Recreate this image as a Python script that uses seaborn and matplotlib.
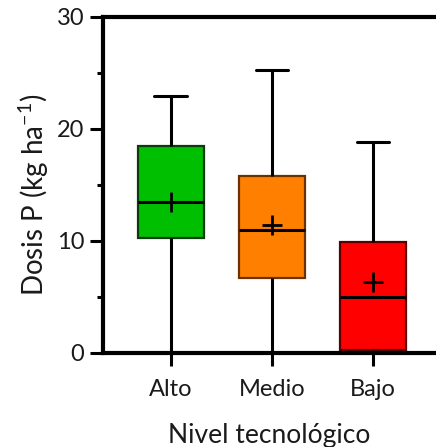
import matplotlib
matplotlib.use("Agg")
import matplotlib.pyplot as plt
import seaborn as sns
import pandas as pd
from matplotlib.ticker import MultipleLocator

# box stats: min, Q1, median, Q3, max
categories = ["Alto", "Medio", "Bajo"]
mins = [0.0, 0.0, 0.0]
q1s = [10.3, 6.7, 0.3]
medians = [13.5, 11.0, 5.0]
q3s = [18.5, 15.8, 9.9]
maxs = [22.9, 25.3, 18.8]
means = [13.5, 11.4, 6.3]

fill_colors = ["#00BF00", "#FF8000", "#FF0000"]
edge_colors = ["#0B3A0B", "#6B3200", "#5A0000"]

sns.set_theme(style="ticks")
plt.rcParams["font.family"] = ["Lato", "DejaVu Sans"]
plt.rcParams["mathtext.fontset"] = "custom"
plt.rcParams["mathtext.rm"] = "Lato"
plt.rcParams["mathtext.it"] = "Lato:italic"

# five points per group -> quartiles are exactly the listed values
rows = []
for cat, a, b, c, d, e in zip(categories, mins, q1s, medians, q3s, maxs):
    for v in (a, b, c, d, e):
        rows.append({"nivel": cat, "dosis": v})
df = pd.DataFrame(rows)

fig = plt.figure(figsize=(4.36, 4.47), dpi=100)
ax = fig.add_axes([0.236, 0.2103, 0.764, 0.752])

sns.boxplot(data=df, x="nivel", y="dosis", order=categories, hue="nivel",
            palette=fill_colors, saturation=1, whis=(0, 100), width=0.65,
            linecolor="black", linewidth=2.2, legend=False, ax=ax)
for patch, ec in zip(ax.patches, edge_colors):
    patch.set_edgecolor(ec)
    patch.set_linewidth(1.6)

sns.pointplot(x=categories, y=means, order=categories, linestyle="none",
              marker="+", markersize=14, markeredgewidth=2.0, color="black",
              errorbar=None, ax=ax)

ax.set_ylim(0, 30)
ax.set_xlim(-0.673, 2.624)
ax.yaxis.set_major_locator(MultipleLocator(10))
ax.yaxis.set_minor_locator(MultipleLocator(5))

for side in ["left", "bottom", "top"]:
    ax.spines[side].set_linewidth(3)
    ax.spines[side].set_color("black")
ax.spines["right"].set_visible(False)

ax.tick_params(axis="both", which="major", length=9.5, width=2.2, color="black",
               labelsize=17, labelcolor="#1a1a1a", pad=4)
ax.tick_params(axis="x", which="major", pad=9)
ax.tick_params(axis="y", which="minor", length=4.5, width=2.2, color="black")

ax.set_xlabel("Nivel tecnológico", fontsize=19, color="#1a1a1a", labelpad=17)
ax.set_ylabel("Dosis P (kg ha$^{\\mathrm{-1}}$)", fontsize=20, color="#1a1a1a")
ax.yaxis.set_label_coords(-0.155, 0.47)

fig.savefig("out.png", dpi=100)
